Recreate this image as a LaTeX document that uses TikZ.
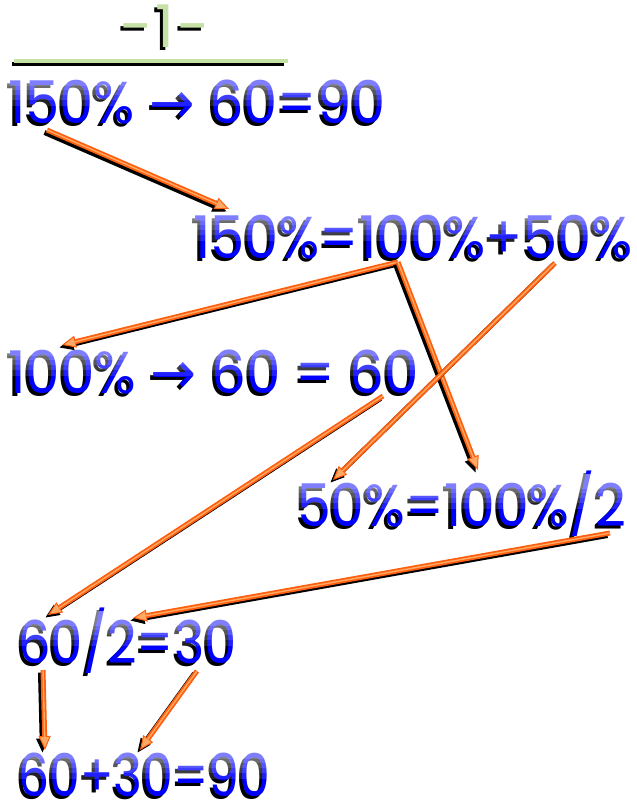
\documentclass[tikz,border=0pt]{standalone}
\usepackage{fontspec}
\setmainfont{Poppins}
\newfontfamily\arrowfont{DejaVu Sans}
\usepackage{graphicx}
\usetikzlibrary{arrows.meta}
\definecolor{eqblue}{RGB}{0,0,255}
\definecolor{titlegreen}{RGB}{197,225,165}
\definecolor{arrorange}{RGB}{255,95,15}
\definecolor{arrlight}{RGB}{255,170,100}
\tikzset{
  eqtext/.style={anchor=base west, inner sep=0pt, text depth=0pt, font=\fontsize{59}{60}\selectfont},
  gloss/.style={fill=white, fill opacity=0.13},
  tiparr/.style={-{Triangle[length=14pt,width=12pt,line width=1pt,fill=#1]}},
  arrshadow/.style={draw=black, line width=5pt, line join=miter, tiparr=black},
  arrmain/.style={draw=arrorange, line width=5pt, line join=miter, tiparr=arrlight},
  arrhl/.style={draw=arrlight, line width=1.4pt, shorten >=13pt},
}
\newcommand\eqline[5]{%
  \node[eqtext, text=black] (#1sh) at (#2-3,#3+3) {\scalebox{#4}[1]{#5}};
  \node[eqtext, text=eqblue] (#1) at (#2,#3) {\scalebox{#4}[1]{#5}};
  \foreach \d in {24,18,13,8,4}{%
    \fill[gloss] (#2-2,#3-52) rectangle (637,#3-41+\d);}%
}
\newcommand\arrline[2]{%
  \draw[arrshadow] ([shift={(-2.5,2.5)}]#1) -- ([shift={(-2.5,2.5)}]#2);
  \draw[arrmain] (#1) -- (#2);
  \draw[arrhl] (#1) -- (#2);
}
\begin{document}
\begin{tikzpicture}[x=1pt,y=-1pt]
\useasboundingbox (0,0) rectangle (637,803);
% title
\node[eqtext, text=black] (tsh) at (117,50) {-\kern3pt1\kern3pt-};
\node[eqtext, text=titlegreen] (title) at (120,47) {-\kern3pt1\kern3pt-};
\draw[black, line width=4pt] (12,64) -- (284,64);
\draw[titlegreen, line width=4pt] (14,61) -- (288,61);
% equations
\eqline{l1}{8}{123}{0.92}{150\% {\arrowfont→} 60=90}
\eqline{l2}{193}{258}{0.92}{150\%=100\%+50\%}
\eqline{l3}{8}{393}{0.93}{100\% {\arrowfont→} 60 = 60}
\eqline{l4}{297}{526}{0.91}{50\%=100\%/2}
\eqline{l5}{18}{663}{0.87}{60/2=30}
\eqline{l6}{18}{796}{0.83}{60+30=90}
% arrow end points
\coordinate (a1s) at (47,130);   \coordinate (a1e) at (229,209);
\coordinate (a2c) at (398,262);  \coordinate (a2l) at (62,345);  \coordinate (a2d) at (478,470);
\coordinate (a3s) at (555,263);  \coordinate (a3e) at (333,480);
\coordinate (a4s) at (383,396);  \coordinate (a4e) at (48,615);
\coordinate (a5s) at (610,533);  \coordinate (a5e) at (133,618);
\coordinate (a6s) at (43,670);   \coordinate (a6e) at (45,750);
\coordinate (a7s) at (197,671);  \coordinate (a7e) at (140,750);
\arrline{a1s}{a1e}
\arrline{a2c}{a2l}
\arrline{a2c}{a2d}
\arrline{a3s}{a3e}
\arrline{a4s}{a4e}
\arrline{a5s}{a5e}
\arrline{a6s}{a6e}
\arrline{a7s}{a7e}
\end{tikzpicture}
\end{document}
